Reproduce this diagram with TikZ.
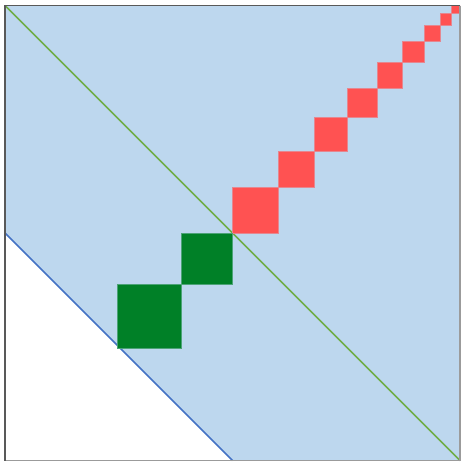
\documentclass[tikz,border=0pt]{standalone}
\usepackage{tikz}
\usetikzlibrary{calc}
\definecolor{areablue}{RGB}{189,215,238}
\definecolor{lineblue}{RGB}{68,114,196}
\definecolor{linegreen}{RGB}{112,173,71}
\definecolor{hotred}{RGB}{255,82,82}
\definecolor{darkgreen}{RGB}{0,128,39}
\definecolor{framegray}{RGB}{89,89,89}
\tikzset{
  region/.style={fill=areablue, draw=none},
  boundary/.style={draw=lineblue, line width=1.5pt},
  diagonal/.style={draw=linegreen, line width=1.5pt},
  redcell/.style={fill=hotred, draw=hotred!60!areablue, line width=0.8pt},
  greencell/.style={fill=darkgreen, draw=darkgreen!60!areablue, line width=0.8pt},
  frameline/.style={draw=framegray, line width=1.8pt}
}

\begin{document}
\begin{tikzpicture}[x=455pt, y=455pt]
  % page size of the reference
  \useasboundingbox (-0.011,-0.0033) rectangle (1.0022,1.0121);
  % shaded part of the unit square
  \fill[region] (0,1) -- (1,1) -- (1,0) -- (0.5,0) -- (0,0.5) -- cycle;
  \coordinate (bl) at (0,0.5);
  \coordinate (br) at (0.5,0);
  \coordinate (tl) at (0,1);
  \coordinate (rb) at (1,0);
  \draw[boundary] (bl) -- (br);
  \draw[diagonal] (tl) -- (rb);
  % staircase towards the corner
  \begin{scope}
    \clip (0,0) rectangle (1,1);
    \foreach \a/\b in {0.5/0.6, 0.6/0.68, 0.68/0.753, 0.753/0.818,
                       0.818/0.874, 0.874/0.921, 0.921/0.957,
                       0.957/0.982, 0.982/1.0}
      \filldraw[redcell] (\a,\a) rectangle (\b,\b);
  \end{scope}
  \foreach \a/\b in {0.388/0.5, 0.247/0.388}
    \filldraw[greencell] (\a,\a) rectangle (\b,\b);
  % frame
  \draw[framegray!60, line width=1.2pt] (0,0) -- (1,0) -- (1,1);
  \draw[frameline] (0,0) -- (0,1) -- (1,1);
\end{tikzpicture}
\end{document}
